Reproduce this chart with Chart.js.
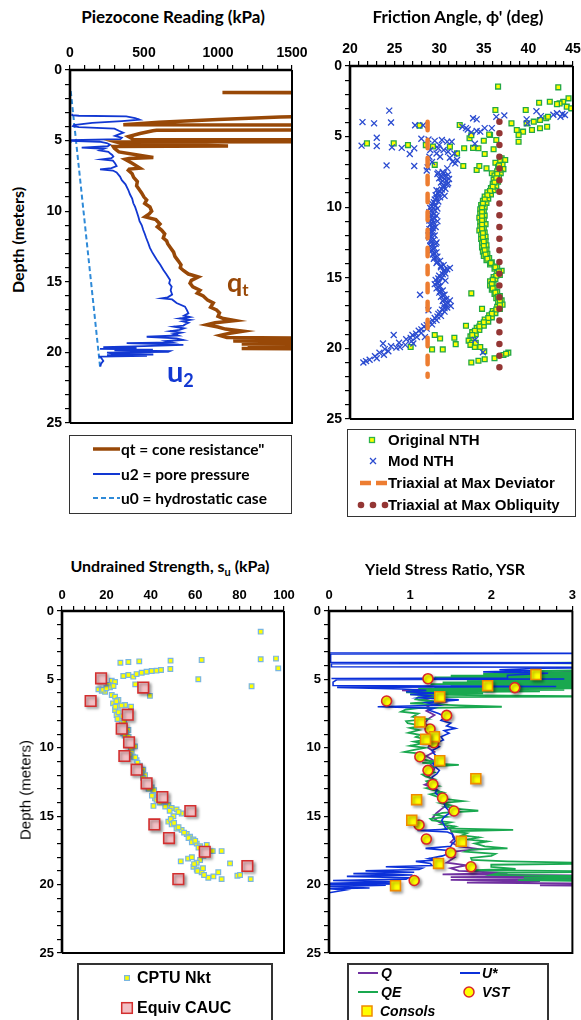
<!DOCTYPE html>
<html><head><meta charset="utf-8">
<script src="https://cdn.jsdelivr.net/npm/chart.js@4.4.1/dist/chart.umd.min.js"></script>
<style>
html,body{margin:0;padding:0;background:#fff;}
#wrap{position:relative;width:581px;height:1020px;overflow:hidden;background:#fff;}
canvas{position:absolute;}
.t{position:absolute;white-space:nowrap;color:#000;}
.title{font-family:Lato,'Open Sans',sans-serif;font-weight:bold;transform:translateX(-50%);}
.box{position:absolute;box-sizing:border-box;border:1.5px solid #333;background:#fff;}
.lg{position:absolute;white-space:nowrap;color:#000;line-height:18px;height:18px;}
</style></head>
<body><div id="wrap">
<div class="box" style="left:69px;top:435px;width:223px;height:79px"></div>
<div class="box" style="left:347px;top:429px;width:229px;height:88px"></div>
<div class="box" style="left:77px;top:963px;width:196px;height:80px;border-width:2px"></div>
<div class="box" style="left:347px;top:963px;width:202px;height:80px;border-width:2px"></div>

<canvas id="c1" width="285" height="395" style="left:30px;top:40px"></canvas>
<canvas id="c2" width="276" height="390" style="left:305px;top:40px"></canvas>
<canvas id="c3" width="285" height="378" style="left:20px;top:585px"></canvas>
<canvas id="c4" width="286" height="378" style="left:295px;top:585px"></canvas>

<div class="t title" style="left:173px;top:6px;font-size:17px">Piezocone Reading (kPa)</div>
<div class="t title" style="left:458px;top:6px;font-size:17px">Friction Angle, ϕ' (deg)</div>
<div class="t title" style="left:170px;top:556px;font-size:16px">Undrained Strength, s<sub style="font-size:11px">u</sub> (kPa)</div>
<div class="t title" style="left:445px;top:559px;font-size:16px">Yield Stress Ratio, YSR</div>

<div class="t" style="left:17px;top:240px;transform:translate(-50%,-50%) rotate(-90deg);font-family:Lato,sans-serif;font-weight:bold;font-size:16px">Depth (meters)</div>
<div class="t" style="left:25px;top:790px;transform:translate(-50%,-50%) rotate(-90deg);font-family:'Liberation Sans',Arial,sans-serif;font-size:15px">Depth (meters)</div>

<div class="t" style="left:227px;top:268px;font-family:Lato,sans-serif;font-weight:bold;font-size:27px;color:#984807;line-height:27px">q<sub style="font-size:17px;vertical-align:-4px">t</sub></div>
<div class="t" style="left:167px;top:356px;font-family:Lato,sans-serif;font-weight:bold;font-size:29px;color:#1238d2;line-height:29px">u<sub style="font-size:18px;vertical-align:-5px">2</sub></div>

<svg style="position:absolute;left:0;top:0" width="581" height="1020">
 <line x1="93" y1="449" x2="120" y2="449" stroke="#984807" stroke-width="3.5"/>
 <line x1="93" y1="474" x2="120" y2="474" stroke="#1238d2" stroke-width="2"/>
 <line x1="93" y1="498" x2="120" y2="498" stroke="#2e8ad8" stroke-width="2" stroke-dasharray="5 3"/>
 <rect x="369.5" y="437.5" width="5" height="5" fill="#ffff00" stroke="#2db34a" stroke-width="1.3"/>
 <path d="M370 458 L376 464 M376 458 L370 464" stroke="#2a4bd0" stroke-width="1.3"/>
 <line x1="360" y1="483" x2="387" y2="483" stroke="#ed7d31" stroke-width="4.5" stroke-dasharray="11 5"/>
 <circle cx="361" cy="505" r="3.3" fill="#943634"/><circle cx="373" cy="505" r="3.3" fill="#943634"/><circle cx="385" cy="505" r="3.3" fill="#943634"/>
 <rect x="124.6" y="975.6" width="4.8" height="4.8" fill="#ffff00" stroke="#7ab6e0" stroke-width="1.2"/>
 <rect x="121.7" y="1002.7" width="10.6" height="10.6" fill="#f2bfc4" stroke="#d32f2f" stroke-width="1.5"/>
 <line x1="358" y1="973" x2="378" y2="973" stroke="#7030a0" stroke-width="2"/>
 <line x1="460" y1="973" x2="480" y2="973" stroke="#0b30d9" stroke-width="2"/>
 <line x1="358" y1="992" x2="378" y2="992" stroke="#19a84f" stroke-width="2"/>
 <circle cx="469" cy="992" r="5" fill="#ffff00" stroke="#d9262c" stroke-width="1.5"/>
 <rect x="362" y="1006" width="10" height="10" fill="#ffff00" stroke="#f08a00" stroke-width="1.5"/>
</svg>

<div class="lg" style="left:121px;top:440px;font-family:Lato,sans-serif;font-weight:bold;font-size:15.5px">qt = cone resistance"</div>
<div class="lg" style="left:121px;top:465px;font-family:Lato,sans-serif;font-weight:bold;font-size:15.5px">u2 = pore pressure</div>
<div class="lg" style="left:121px;top:489px;font-family:Lato,sans-serif;font-weight:bold;font-size:15.5px">u0 = hydrostatic case</div>

<div class="lg" style="left:388px;top:431px;font-family:'Liberation Sans',Arial,sans-serif;font-weight:bold;font-size:15px">Original NTH</div>
<div class="lg" style="left:388px;top:452px;font-family:'Liberation Sans',Arial,sans-serif;font-weight:bold;font-size:15px">Mod NTH</div>
<div class="lg" style="left:388px;top:474px;font-family:'Liberation Sans',Arial,sans-serif;font-weight:bold;font-size:15px">Triaxial at Max Deviator</div>
<div class="lg" style="left:388px;top:496px;font-family:'Liberation Sans',Arial,sans-serif;font-weight:bold;font-size:15px">Triaxial at Max Obliquity</div>

<div class="lg" style="left:137px;top:969px;font-family:'Liberation Sans',Arial,sans-serif;font-weight:bold;font-size:16px">CPTU Nkt</div>
<div class="lg" style="left:137px;top:999px;font-family:'Liberation Sans',Arial,sans-serif;font-weight:bold;font-size:16px">Equiv CAUC</div>

<div class="lg" style="left:381px;top:964px;font-family:'Liberation Sans',Arial,sans-serif;font-weight:bold;font-style:italic;font-size:14px">Q</div>
<div class="lg" style="left:482px;top:964px;font-family:'Liberation Sans',Arial,sans-serif;font-weight:bold;font-style:italic;font-size:14px">U*</div>
<div class="lg" style="left:381px;top:983px;font-family:'Liberation Sans',Arial,sans-serif;font-weight:bold;font-style:italic;font-size:14px">QE</div>
<div class="lg" style="left:482px;top:983px;font-family:'Liberation Sans',Arial,sans-serif;font-weight:bold;font-style:italic;font-size:14px">VST</div>
<div class="lg" style="left:380px;top:1002px;font-family:'Liberation Sans',Arial,sans-serif;font-weight:bold;font-style:italic;font-size:14px">Consols</div>
</div>
<script>
// ---------- DATA (pairs are [depth m, value]) ----------
const qtCone = [[1.56,3000],[1.60,1030],[1.64,3000],[3.28,3000],[3.32,1420],[3.50,1000],[3.70,600],[3.88,360],[3.90,3000],[4.22,3000],[4.26,585],[4.30,560],[4.50,473],[4.72,395],[4.92,430],[4.98,3000],[5.04,3000],[5.10,315],[5.20,350],[5.38,1068],[5.42,292],[5.55,300],[5.80,330],[6.20,563],[6.26,400],[6.32,372],[6.60,420],[6.95,473],[7.02,400],[7.10,394],[7.35,420],[7.60,430],[7.90,455],[8.20,450],[8.50,470],[8.70,484],[9.00,500],[9.20,518],[9.45,505],[9.70,540],[10.0,552],[10.2,535],[10.4,507],[10.6,580],[10.9,608],[11.1,590],[11.35,620],[11.6,640],[11.9,630],[12.1,653],[12.3,660],[12.6,680],[12.9,700],[13.2,709],[13.5,730],[13.8,750],[14.0,745],[14.2,766],[14.45,800],[14.65,867],[14.9,820],[15.1,811],[15.35,830],[15.6,878],[15.8,860],[16.0,900],[16.3,930],[16.5,968],[16.8,950],[17.0,990],[17.2,1010],[17.45,1000],[17.6,1036],[17.75,1115],[17.9,980],[18.05,923],[18.2,1000],[18.35,1050],[18.5,1170],[18.65,1080],[18.8,1013],[18.95,1060],[19.05,3000],[19.12,1200],[19.2,1103],[19.3,3000],[19.4,1160],[19.5,3000],[19.55,1200],[19.65,3000],[19.72,1160],[19.8,3000]];
const u2Pore = [[3.10,15],[3.20,15],[3.24,60],[3.28,380],[3.40,440],[3.52,470],[3.62,350],[3.75,150],[3.90,25],[3.97,20],[4.05,60],[4.15,300],[4.30,330],[4.44,360],[4.56,330],[4.67,304],[4.80,350],[4.90,340],[4.97,0],[5.02,5],[5.08,200],[5.17,248],[5.28,270],[5.40,255],[5.50,79],[5.58,230],[5.70,200],[5.80,260],[5.90,270],[6.02,285],[6.14,293],[6.25,280],[6.33,214],[6.42,290],[6.60,304],[6.80,315],[6.95,280],[7.04,203],[7.12,290],[7.25,315],[7.55,338],[7.8,350],[8.1,375],[8.5,394],[8.8,405],[9.1,420],[9.44,428],[9.7,440],[10.0,450],[10.39,462],[10.7,470],[11.0,485],[11.33,495],[11.6,505],[11.9,515],[12.27,529],[12.6,540],[12.9,555],[13.22,574],[13.5,590],[13.8,610],[14.16,631],[14.45,650],[14.87,676],[15.1,670],[15.35,687],[15.6,680],[15.9,690],[16.1,660],[16.17,619],[16.25,690],[16.5,720],[16.76,777],[17.0,790],[17.23,800],[17.4,770],[17.5,810],[17.6,740],[17.7,811],[17.8,760],[17.9,800],[18.0,780],[18.1,766],[18.18,700],[18.3,770],[18.4,740],[18.5,676],[18.6,750],[18.7,700],[18.8,730],[18.89,518],[19.0,720],[19.12,766],[19.2,650],[19.3,690],[19.35,383],[19.42,600],[19.47,766],[19.55,500],[19.62,225],[19.68,450],[19.75,203],[19.8,560],[19.85,300],[19.9,676],[19.96,663],[20.02,250],[20.08,292],[20.15,563],[20.2,250],[20.25,520],[20.3,203],[20.45,215],[20.6,225],[20.8,210],[21.0,205]];
const u0Hydro = [[1.5,5],[21.0,203]];

const originalNTH = [[1.46,36.6],[1.51,43.35],[2.29,44.5],[2.53,43.9],[2.88,44.3],[3.0,44.8],[2.65,43.5],[2.6,41.2],[2.53,42.4],[2.7,43.2],[3.12,39.7],[3.12,36.3],[3.94,40.6],[3.82,41.3],[3.7,42.0],[3.59,42.2],[4.06,39.8],[4.06,38.1],[4.53,38.7],[4.65,39.4],[4.53,40.4],[4.41,41.3],[4.3,42.1],[4.89,38.9],[5.36,38.9],[4.18,32.3],[5.12,33.4],[5.29,35.0],[4.89,35.7],[5.24,36.4],[5.83,34.4],[6.23,35.1],[5.9,36.1],[6.54,37.0],[6.66,37.4],[7.08,32.7],[7.37,34.2],[7.08,34.5],[7.25,35.3],[7.6,35.9],[6.19,32.0],[5.83,32.8],[5.71,31.2],[5.48,24.9],[5.48,21.9],[5.6,26.5],[5.6,28.5],[4.22,27.8],[7.0,29.5],[5.7,29.3],[4.9,33.6],[5.8,33.8],[4.85,35.6],
[6.7,36.8],[6.85,36.3],[7.0,37.1],[7.15,36.6],[7.3,37.2],[7.45,36.5],[7.6,36.9],[7.75,36.2],[7.9,36.7],[8.05,36.1],[8.2,36.6],[8.35,36.0],[8.5,36.4],[8.65,35.8],[8.8,36.1],[8.95,35.4],[9.1,35.8],[9.25,35.1],[9.4,35.5],[9.55,34.9],[9.7,35.3],[9.85,34.7],[10.0,35.1],[10.15,34.6],[10.3,35.0],[10.45,34.6],[10.6,35.1],[10.75,34.5],[10.9,35.0],[11.05,34.6],[11.2,35.2],[11.35,34.6],[11.5,35.0],[11.65,34.5],[11.8,35.1],[11.95,34.7],[12.1,35.2],[12.25,34.7],[12.4,35.2],[12.55,34.8],[12.7,35.3],[12.85,34.8],[13.0,35.3],[13.15,34.9],[13.3,35.4],[13.45,35.0],[13.6,35.6],[13.75,35.3],[13.9,35.9],[14.05,35.7],[14.2,36.5],[14.35,36.2],[14.5,37.0],[14.65,36.5],[14.8,36.8],[14.95,36.1],[15.1,36.3],[15.25,35.7],[15.4,36.1],[15.55,35.7],[15.7,36.2],[15.85,35.9],[16.0,36.5],[16.15,36.2],[16.3,36.8],[16.45,36.4],[16.6,37.0],[16.75,36.6],[16.9,37.1],[17.05,36.5],[17.2,36.8],[17.35,36.0],[17.5,36.3],[17.65,35.6],[17.8,35.9],[17.95,35.1],[18.1,35.5],[18.25,34.6],[18.4,35.0],[18.55,34.2],[18.7,34.5],[18.85,33.7],[19.0,34.1],[19.15,33.5],[19.3,33.8],[19.45,33.3],[19.6,33.7],[19.75,33.5],[19.9,34.0],
[7.05,36.7],[7.35,36.8],[7.65,36.5],[7.95,36.4],[8.25,36.2],[8.55,36.0],[8.85,35.7],[9.15,35.4],[9.45,35.1],[9.75,34.9],[10.05,34.8],[10.35,34.8],[10.65,34.8],[10.95,34.8],[11.25,34.8],[11.55,34.8],[11.85,34.9],[12.15,34.9],[12.45,35.0],[12.75,35.0],[13.05,35.1],[13.35,35.2],[13.65,35.4],[13.95,35.8],[14.25,36.3],[14.55,36.7],[14.85,36.4],[15.15,36.0],[15.45,35.9],[15.75,36.0],[16.05,36.3],[16.35,36.6],[16.65,36.8],[16.95,36.8],[17.25,36.4],[17.55,35.9],[17.85,35.5],[18.15,35.0],[18.45,34.5],[18.75,34.0],[19.05,33.7],
[16.1,33.6],[17.2,34.8],[18.4,33.0],[19.05,29.5],[19.3,30.1],[19.25,31.7],[19.7,31.85],[20.07,30.4],[20.07,29.2],[19.9,26.8],[21.0,33.6],[20.87,34.4],[20.77,35.1],[20.7,36.2],[20.47,37.2],[20.3,37.75],[20.38,37.5],[20.2,35.05],[19.6,34.1],[19.9,34.6]];
const modNTH = [[3.16,24.4],[3.97,21.4],[4.06,22.7],[4.0,24.6],[4.2,27.3],[4.2,28.2],[5.08,23.0],[5.64,21.3],[5.67,23.0],[5.76,24.7],[5.8,25.8],[5.83,27.2],[6.23,26.7],[7.04,24.1],[7.08,27.2],[7.18,28.7],[5.15,28.0],[5.2,28.8],[5.95,29.0],
[3.7,33.8],[3.78,34.2],[4.5,33.2],[4.7,33.6],[4.6,34.2],[4.65,34.6],[4.4,35.1],[4.4,35.9],[3.5,37.3],[5.5,34.0],[3.6,36.4],[4.3,32.6],[4.4,33.0],
[3.78,39.8],[3.2,40.9],[4.06,39.9],[3.35,43.2],[3.4,43.8],[3.47,44.1],[3.6,43.6],[3.45,42.8],[3.55,41.4],
[5.24,30.3],[5.36,30.9],[5.36,31.4],[5.83,29.9],[5.95,30.5],[6.07,31.0],[6.2,31.7],[6.66,32.0],[6.78,31.5],[6.43,30.1],[6.2,29.7],[6.43,28.9],[7.25,30.9],[7.6,30.5],[5.3,29.5],[5.6,30.0],[6.5,31.2],[6.9,31.8],[6.8,29.2],[7.4,28.6],
[7.5,30.4],[7.65,29.8],[7.8,30.6],[7.95,30.0],[8.1,30.8],[8.25,30.2],[8.4,30.9],[8.55,30.4],[8.7,30.7],[8.85,30.0],[9.0,30.3],[9.15,29.6],[9.3,30.1],[9.45,29.5],[9.6,29.9],[9.75,29.2],[9.9,29.6],[10.05,29.0],[10.2,29.5],[10.35,28.9],[10.5,29.4],[10.65,29.0],[10.8,29.5],[10.95,28.9],[11.1,29.4],[11.25,29.0],[11.4,29.6],[11.55,28.9],[11.7,29.3],[11.85,29.0],[12.0,29.5],[12.15,28.9],[12.3,29.4],[12.45,29.1],[12.6,29.6],[12.75,29.0],[12.9,29.5],[13.05,29.2],[13.2,29.7],[13.35,29.3],[13.5,29.8],[13.65,29.4],[13.8,30.1],[13.95,29.7],[14.1,30.5],[14.25,30.2],[14.4,30.9],[14.55,30.5],[14.7,30.7],[14.85,30.0],[15.0,30.3],[15.15,29.6],[15.3,30.0],[15.45,29.5],[15.6,30.1],[15.75,29.7],[15.9,30.4],[16.05,30.0],[16.2,30.6],[16.35,30.2],[16.5,30.8],[16.65,30.4],[16.8,31.0],[16.95,30.5],[17.1,30.9],[17.25,30.3],[17.4,30.6],[17.55,29.9],[17.7,30.2],[17.85,29.5],[18.0,29.7],[18.15,28.9],[18.3,29.2],[18.45,28.3],[18.6,28.6],[18.75,27.7],[18.9,28.0],[19.05,27.0],[19.2,27.5],[19.35,26.3],[19.5,26.9],[19.6,25.5],[19.75,26.2],[19.85,24.6],[19.95,25.2],[20.05,23.9],[20.2,24.3],[20.3,23.3],[20.45,23.8],[20.55,22.8],[20.7,23.0],[20.8,22.2],[20.9,21.8],[21.0,21.5],
[7.55,29.9],[7.85,30.3],[8.15,30.4],[8.45,30.5],[8.75,30.3],[9.05,29.9],[9.35,29.7],[9.65,29.4],[9.95,29.2],[10.25,29.1],[10.55,29.1],[10.85,29.2],[11.15,29.1],[11.45,29.2],[11.75,29.1],[12.05,29.1],[12.35,29.0],[12.65,29.2],[12.95,29.3],[13.25,29.4],[13.55,29.5],[13.85,29.8],[14.15,30.2],[14.45,30.6],[14.75,30.4],[15.05,29.9],[15.35,29.8],[15.65,29.9],[15.95,30.1],[16.25,30.4],[16.55,30.5],[16.85,30.7],[17.15,30.6],[17.45,30.1],[17.75,29.8],[18.05,29.3],[18.35,28.6],[18.65,28.0],[18.95,27.4],[19.25,26.8],
[16.2,27.85],[17.3,28.8],[19.05,24.9],[19.65,23.7],[19.4,34.0],[20.28,34.9],[19.9,25.6],[19.65,27.1],[19.2,28.4],[10.1,29.8],[10.6,29.7],[11.0,29.8],[11.5,29.3],[12.0,28.8],[12.5,29.7],[13.0,28.9],[9.2,30.6],[8.3,31.0],[8.0,31.1],[14.3,31.2],[16.6,31.2],[17.0,31.3],[15.2,30.7],[8.8,29.7],[7.7,31.0]];
const maxDeviator = [[3.94,28.7],[22.0,28.7]];
const maxObliquity = [[3.94,36.75],[21.5,36.75]];

const cptuNkt = [[1.51,89.5],[3.78,26.3],[3.73,29.9],[3.68,34.8],[3.63,48.9],[3.58,62.9],[3.53,89.5],[3.48,96.4],[4.19,97.4],[4.24,48.8],[4.99,61.4],[5.5,85.4],[5.36,33.0],[6.2,39.6],
[4.75,27.6],[4.68,29.9],[4.8,32.1],[4.61,33.6],[4.51,35.9],[4.44,38.1],[4.39,40.4],[4.36,42.6],[4.31,44.6],
[5.1,22.4],[5.19,23.9],[5.41,20.9],[5.73,16.4],[5.83,17.9],[5.9,19.4],[5.58,21.6],[5.48,23.2],[5.75,18.5],[5.65,20.0],[6.14,22.4],[6.26,23.9],[6.5,25.4],[6.75,23.0],[6.94,25.4],[6.87,28.4],[7.0,31.1],[7.24,23.9],[7.6,24.6],[7.85,26.1],[8.2,26.9],[8.5,28.4],[8.7,29.9],[8.94,27.6],[9.3,29.1],[9.55,30.6],[9.9,32.9],[10.3,31.4],[10.65,32.1],[10.9,33.6],[11.3,35.1],[11.6,36.6],[12.0,37.4],[12.4,38.9],[12.9,40.4],[13.3,41.1],[13.7,41.9],[13.8,42.6],[13.9,45.6],[14.2,47.9],[14.4,49.4],[14.5,51.6],[14.8,53.9],[15.0,50.2],[15.4,47.9],[15.6,49.4],[15.9,51.6],[16.0,53.9],[16.3,56.2],[16.5,57.7],[16.7,59.2],[17.0,60.7],[17.2,62.2],[17.5,63.7],[17.1,65.2],[17.55,67.9],[17.55,71.9],[17.9,63.7],[18.2,62.2],[18.4,60.7],[18.7,59.2],[18.9,60.7],[19.1,62.9],[19.5,65.9],[19.4,68.2],[19.1,70.4],[19.6,71.9],[18.45,75.7],[19.35,79.0],[19.3,80.2],[19.6,85.0],[18.3,53.5],[18.1,56.8],[14.25,41.2],
[6.6,24.5],[6.9,26.8],[7.0,24.0],[7.4,25.5],[7.7,27.2],[7.9,25.0],[8.1,28.0],[8.4,27.0],[8.9,29.0],[9.1,28.2],[9.2,30.0],[9.7,29.5],[10.0,31.0],[10.5,30.5],[10.7,33.0],[11.1,34.0],[11.4,33.8],[11.8,35.8],[12.2,36.5],[12.5,38.0],[12.7,39.5],[13.0,39.0],[13.1,41.5],[13.5,40.5],[13.6,43.5],[14.0,44.0],[14.3,46.5],[14.6,48.5],[14.7,52.5],[15.2,49.0],[15.5,50.5],[15.8,52.5],[16.2,55.0],[16.6,57.0],[16.9,58.5],[16.8,60.0],[17.3,61.5],[18.0,58.5],[18.5,59.5],[19.0,61.0],[18.8,63.5],[19.3,64.0]];
const equivCAUC = [[4.92,17.6],[5.6,36.6],[6.58,12.9],[7.58,29.6],[8.6,26.9],[9.6,30.2],[10.6,28.1],[11.6,33.6],[12.6,38.1],[13.6,45.2],[14.62,57.8],[15.6,41.6],[16.6,48.2],[17.6,64.3],[18.64,83.5],[19.6,52.4]];

const ysrQ = [[4.35,3.6],[4.45,2.9],[4.6,2.5],[4.7,3.6],[4.85,2.2],[5.0,3.6],[5.2,2.0],[5.35,3.6],[5.6,1.6],[5.8,0.9],[5.95,1.5],[6.1,1.1],[6.3,1.3],[6.5,1.15],[6.7,1.4],[6.9,1.2],[7.1,1.25],[7.3,1.2],[7.6,1.3],[7.9,1.22],[8.2,1.18],[8.5,1.25],[8.8,1.2],[9.1,1.3],[9.4,1.15],[9.7,1.25],[10.0,1.22],[10.3,1.3],[10.6,1.2],[10.9,1.28],[11.2,1.25],[11.5,1.3],[11.8,1.28],[12.1,1.22],[12.4,1.3],[12.7,1.18],[13.0,1.32],[13.3,1.38],[13.6,1.35],[13.9,1.42],[14.2,1.45],[14.5,1.38],[14.8,1.32],[15.1,1.28],[15.4,1.35],[15.7,1.45],[16.0,1.5],[16.3,1.52],[16.6,1.55],[16.9,1.5],[17.2,1.6],[17.4,1.85],[17.6,1.5],[17.8,1.45],[18.0,1.55],[18.2,1.5],[18.4,1.45],[18.6,1.7],[18.8,1.5],[19.0,1.6],[19.15,2.2],[19.25,1.4],[19.35,3.6],[19.45,1.5],[19.55,3.6],[19.65,1.5],[19.75,2.6],[19.85,1.7],[19.95,3.6],[20.05,2.6],[20.12,3.6]];
const ysrQE = [[3.75,3.6],[3.8,2.6],[3.85,3.6],[4.3,3.6],[4.4,2.4],[4.5,3.6],[4.6,1.9],[4.65,3.6],[4.72,1.5],[4.78,3.6],[4.85,1.3],[4.92,3.6],[4.97,1.2],[5.03,3.6],[5.1,1.7],[5.16,3.6],[5.22,1.4],[5.28,3.6],[5.34,1.25],[5.4,3.6],[5.46,1.5],[5.52,3.6],[5.58,1.3],[5.64,3.6],[5.7,1.1],[5.76,2.9],[5.82,1.0],[5.88,2.6],[5.95,0.95],[6.02,1.9],[6.1,1.0],[6.18,2.2],[6.25,3.6],[6.3,1.1],[6.45,1.07],[6.6,1.3],[6.75,1.0],[6.9,1.6],[7.0,2.13],[7.1,1.1],[7.2,0.95],[7.36,0.89],[7.5,1.1],[7.73,1.03],[7.9,1.2],[8.05,0.95],[8.2,0.97],[8.4,1.15],[8.55,1.0],[8.7,1.11],[8.9,0.98],[9.05,1.12],[9.2,1.07],[9.4,1.2],[9.55,1.05],[9.67,1.15],[9.85,1.0],[10.0,1.18],[10.15,1.05],[10.3,0.93],[10.45,1.15],[10.65,1.19],[10.8,1.1],[11.0,1.3],[11.1,1.15],[11.25,1.6],[11.4,1.2],[11.6,1.23],[11.8,1.3],[11.95,1.15],[12.1,1.19],[12.3,1.3],[12.45,1.2],[12.6,1.23],[12.8,1.35],[12.95,1.2],[13.1,1.29],[13.25,1.4],[13.4,1.25],[13.6,1.35],[13.75,1.45],[13.9,1.65],[14.05,1.38],[14.2,1.5],[14.3,1.43],[14.45,1.55],[14.6,1.84],[14.75,1.4],[14.9,1.31],[15.05,1.45],[15.2,1.25],[15.3,1.27],[15.45,1.5],[15.6,1.39],[15.75,1.55],[15.9,1.45],[16.0,2.27],[16.1,1.5],[16.25,1.7],[16.4,1.64],[16.55,1.85],[16.7,1.72],[16.85,1.95],[17.0,1.8],[17.2,1.92],[17.35,2.2],[17.45,1.75],[17.6,1.68],[17.75,2.05],[17.9,2.0],[18.05,1.75],[18.2,1.76],[18.3,2.2],[18.45,3.6],[18.55,2.0],[18.7,2.0],[18.85,2.3],[18.95,1.8],[19.05,3.6],[19.15,2.1],[19.3,2.0],[19.4,3.6],[19.5,2.4],[19.6,3.6],[19.68,2.33],[19.75,3.6]];
const ysrUstar = [[1.4,0.0],[3.05,0.0],[3.09,3.6],[3.14,0.02],[3.75,0.02],[3.8,3.6],[3.86,0.03],[4.08,0.03],[4.12,3.6],[4.18,2.6],[4.3,2.1],[4.38,2.5],[4.45,1.9],[4.55,2.7],[4.7,2.2],[4.9,2.2],[4.93,0.03],[4.97,2.9],[5.02,0.1],[5.2,0.05],[5.45,0.05],[5.52,2.8],[5.58,0.1],[5.7,0.9],[5.8,1.2],[5.9,0.95],[6.0,1.3],[6.1,1.0],[6.2,1.25],[6.35,1.1],[6.5,1.6],[6.7,1.2],[6.9,1.35],[7.0,0.6],[7.1,1.3],[7.24,1.23],[7.5,1.35],[7.72,1.43],[8.0,1.38],[8.2,1.5],[8.4,1.45],[8.58,1.56],[8.75,1.42],[8.94,1.48],[9.2,1.38],[9.43,1.41],[9.7,1.3],[9.92,1.36],[10.2,1.27],[10.4,1.29],[10.65,1.33],[10.9,1.35],[11.15,1.28],[11.4,1.31],[11.65,1.36],[11.9,1.33],[12.15,1.27],[12.4,1.29],[12.6,1.25],[12.84,1.27],[13.1,1.33],[13.3,1.31],[13.55,1.36],[13.8,1.39],[14.05,1.42],[14.3,1.43],[14.55,1.47],[14.8,1.48],[15.05,1.42],[15.3,1.39],[15.55,1.41],[15.8,1.43],[15.95,1.45],[16.05,1.09],[16.15,1.46],[16.3,1.52],[16.55,1.53],[16.8,1.56],[17.0,1.52],[17.2,1.5],[17.35,1.19],[17.5,1.47],[17.7,1.48],[17.9,1.4],[18.1,1.23],[18.2,1.35],[18.3,1.07],[18.45,1.25],[18.6,1.27],[18.7,0.7],[18.8,1.15],[18.9,1.11],[19.0,0.45],[19.1,1.05],[19.2,0.3],[19.3,1.03],[19.4,0.22],[19.5,0.98],[19.6,0.95],[19.7,0.05],[19.8,0.85],[19.9,0.0],[19.95,0.83],[20.0,0.0],[20.05,0.7],[20.15,0.0],[20.25,0.5],[20.3,0.0],[20.4,0.2],[20.6,0.0],[21.1,0.0]];
const ysrVST = [[4.95,1.22],[5.6,2.29],[6.58,0.71],[7.63,1.45],[8.63,1.245],[9.63,1.29],[10.65,1.12],[11.65,1.22],[12.67,1.28],[13.67,1.40],[14.62,1.54],[15.64,1.11],[16.67,1.20],[17.67,1.50],[18.7,1.75],[19.7,1.05]];
const ysrConsols = [[4.65,2.55],[5.46,1.955],[6.26,1.365],[8.11,1.12],[9.19,1.30],[9.38,1.19],[10.94,1.365],[12.26,1.81],[13.79,1.08],[15.3,1.02],[16.84,1.63],[18.45,1.35],[20.08,0.82]];

// ---------- CHART HELPERS ----------
const TICKFONT = "'Liberation Sans', Arial, sans-serif";
const pts = arr => arr.map(p => ({x: p[1], y: p[0]}));
const framePlugin = {
  id: 'frame',
  afterDatasetsDraw(chart) {
    const a = chart.chartArea, c = chart.ctx;
    c.save(); c.strokeStyle = '#000';
    c.lineWidth = 2; c.beginPath();
    c.moveTo(a.right, a.top); c.lineTo(a.right, a.bottom); c.lineTo(a.left, a.bottom); c.stroke();
    c.lineWidth = 2.6; c.beginPath();
    c.moveTo(a.left, a.bottom); c.lineTo(a.left, a.top); c.lineTo(a.right, a.top); c.stroke();
    c.restore();
  }
};
const shadowPlugin = {
  id: 'shadow',
  beforeDatasetDraw(chart, args) {
    if (chart.data.datasets[args.index].shadow) {
      const c = chart.ctx; c.save();
      c.shadowColor = 'rgba(0,0,0,0.35)'; c.shadowBlur = 3; c.shadowOffsetX = 2; c.shadowOffsetY = 2;
    }
  },
  afterDatasetDraw(chart, args) {
    if (chart.data.datasets[args.index].shadow) chart.ctx.restore();
  }
};
function isMajor(v, m) { return Math.abs(v / m - Math.round(v / m)) < 1e-6; }
function makeChart(id, o, datasets) {
  const font = {family: TICKFONT, size: o.fs, weight: 'bold'};
  const grid = {drawOnChartArea: false, drawTicks: true, tickLength: 5, color: '#000', lineWidth: 1.2};
  return new Chart(document.getElementById(id), {
    type: 'scatter',
    data: {datasets},
    options: {
      responsive: false, animation: false, devicePixelRatio: 1, events: [],
      layout: {padding: {left: 0, top: 0, right: o.pr, bottom: o.pb}},
      plugins: {legend: {display: false}, tooltip: {enabled: false}},
      scales: {
        x: {type: 'linear', position: 'top', min: o.xmin, max: o.xmax,
            ticks: {stepSize: o.xstep, autoSkip: false, maxRotation: 0, color: '#000', font, padding: 3,
                    callback: v => isMajor(v, o.xmajor) ? String(Math.round(v)) : ''},
            grid, border: {display: false},
            afterFit: s => { s.height = o.hx; s.paddingLeft = 0; s.paddingRight = 0; }},
        y: {type: 'linear', reverse: true, min: 0, max: 25,
            ticks: {stepSize: 1, autoSkip: false, color: '#000', font, padding: 3,
                    callback: v => isMajor(v, 5) ? String(Math.round(v)) : ''},
            grid, border: {display: false},
            afterFit: s => { s.width = o.wy; s.paddingTop = 0; s.paddingBottom = 0; }}
      }
    },
    plugins: [framePlugin, shadowPlugin]
  });
}
const line = (data, color, width, extra) => Object.assign({data: pts(data), showLine: true, borderColor: color, borderWidth: width, pointRadius: 0, fill: false, tension: 0}, extra || {});

// Panel 1: Piezocone
makeChart('c1', {xmin: 0, xmax: 1500, xstep: 100, xmajor: 500, fs: 14, wy: 40, hx: 30, pr: 23, pb: 12}, [
  line(qtCone, '#984807', 3.5),
  line(u2Pore, '#1238d2', 1.8),
  line(u0Hydro, '#2e8ad8', 2, {borderDash: [5, 3]})
]);
// Panel 2: Friction angle
makeChart('c2', {xmin: 20, xmax: 45, xstep: 1, xmajor: 5, fs: 14, wy: 45, hx: 26, pr: 8, pb: 11}, [
  line(maxObliquity, '#943634', 6.5, {borderDash: [0, 11.7], borderCapStyle: 'round'}),
  line(maxDeviator, '#ed7d31', 4.5, {borderDash: [8.5, 9.5], borderCapStyle: 'round'}),
  {data: pts(modNTH), pointStyle: 'crossRot', pointRadius: 4.2, borderColor: '#2a4bd0', borderWidth: 1.3, backgroundColor: '#2a4bd0'},
  {data: pts(originalNTH), pointStyle: 'rect', pointRadius: 3.4, borderColor: '#23a845', borderWidth: 1.3, backgroundColor: '#ffff00'}
]);
// Panel 3: Undrained strength
makeChart('c3', {xmin: 0, xmax: 100, xstep: 5, xmajor: 20, fs: 13, wy: 42, hx: 26, pr: 21, pb: 10}, [
  {data: pts(equivCAUC), pointStyle: 'rect', pointRadius: 7.5, borderColor: '#d32f2f', borderWidth: 1.6, backgroundColor: '#f2bfc4', shadow: true},
  {data: pts(cptuNkt), pointStyle: 'rect', pointRadius: 3.3, borderColor: '#7ab6e0', borderWidth: 1.2, backgroundColor: '#ffff00'}
]);
// Panel 4: YSR
makeChart('c4', {xmin: 0, xmax: 3, xstep: 0.2, xmajor: 1, fs: 13, wy: 34, hx: 26, pr: 6, pb: 10}, [
  {data: pts(ysrConsols), pointStyle: 'rect', pointRadius: 7, borderColor: '#f08a00', borderWidth: 1.6, backgroundColor: '#ffff00', shadow: true},
  {data: pts(ysrVST), pointStyle: 'circle', pointRadius: 5, borderColor: '#d9262c', borderWidth: 1.6, backgroundColor: '#ffff00', shadow: true},
  line(ysrUstar, '#0b30d9', 1.6),
  line(ysrQE, '#19a84f', 1.8),
  line(ysrQ, '#7030a0', 1.8)
]);
</script>
</body></html>
